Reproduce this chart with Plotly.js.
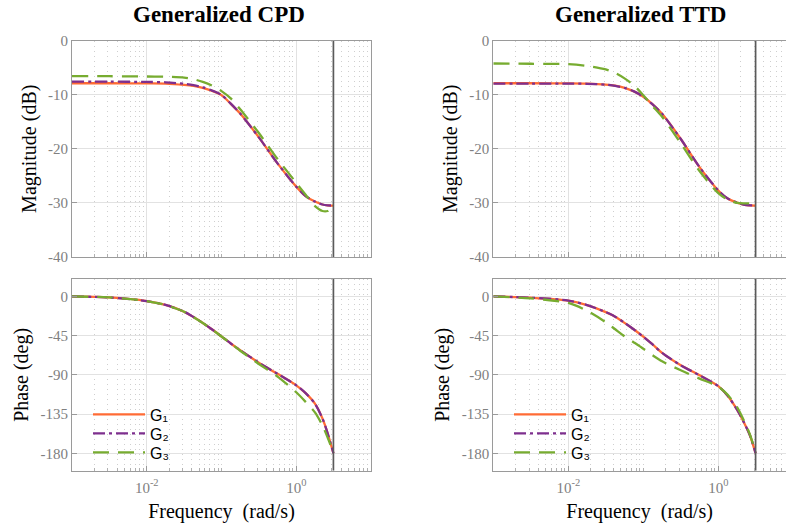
<!DOCTYPE html>
<html><head><meta charset="utf-8">
<script src="https://cdn.plot.ly/plotly-3.0.1.min.js"></script>
<style>html,body{margin:0;padding:0;background:#fff;overflow:hidden}</style>
</head><body><div id="chart" style="width:786px;height:529px"></div>
<script>
// ---- data ----
const freq = [0.001, 0.00316, 0.01, 0.0178, 0.0316, 0.0422, 0.0562, 0.075, 0.1, 0.133, 0.178, 0.316, 0.562, 1, 1.334, 1.778, 2.239, 2.630, 3.1416];

const cpdMagG1 = [-7.9, -7.9, -7.92, -7.95, -8.2, -8.4, -8.75, -9.3, -10.1, -11.7, -13.5, -17.9, -22.7, -27.0, -28.75, -29.75, -30.3, -30.45, -30.5];
const cpdMagG2 = [-7.6, -7.6, -7.65, -7.72, -8.0, -8.25, -8.65, -9.25, -10.05, -11.65, -13.5, -17.9, -22.7, -27.0, -28.75, -29.75, -30.3, -30.45, -30.5];
const cpdMagG3 = [-6.6, -6.6, -6.65, -6.7, -6.85, -7.15, -7.65, -8.35, -9.35, -10.7, -12.7, -17.1, -21.9, -26.3, -28.5, -30.6, -31.5, -31.5, -30.7];

const ttdMagG1 = [-7.9, -7.9, -7.92, -7.97, -8.15, -8.35, -8.75, -9.4, -10.4, -11.8, -13.55, -18.2, -23.4, -27.7, -29.2, -29.95, -30.35, -30.45, -30.5];
const ttdMagG2 = [-7.95, -7.95, -7.96, -8.0, -8.17, -8.37, -8.76, -9.4, -10.4, -11.8, -13.55, -18.2, -23.4, -27.7, -29.2, -29.95, -30.35, -30.45, -30.5];
const ttdMagG3 = [-4.25, -4.3, -4.37, -4.7, -5.35, -6.0, -7.0, -8.3, -10.1, -12.1, -14.1, -19.0, -24.1, -28.2, -29.4, -30.0, -30.1, -30.1, -30.3];

const cpdPhaseG1 = [0, -1.2, -5.3, -9.8, -17.5, -23.7, -30.5, -38, -46, -54, -61.8, -76, -88.8, -102, -111, -123, -140, -157, -180];
const cpdPhaseG2 = [0, -1.2, -5.3, -9.8, -17.5, -23.7, -30.5, -38, -46, -54, -61.8, -76, -88.8, -102, -111, -123, -140, -157, -180];
const cpdPhaseG3 = [0, -1.2, -5.3, -9.8, -17.5, -23.7, -30.5, -38, -46, -54, -62.3, -77.5, -92, -110, -121, -133, -148, -162, -179];

const ttdPhaseG1 = [0, -1.5, -4.8, -10, -18, -23.2, -30.3, -38, -46.2, -55.1, -64.8, -79, -90.5, -103, -114, -130, -146, -159, -180];
const ttdPhaseG2 = [0, -1.5, -4.8, -10, -18, -23.2, -30.3, -38, -46.2, -55.1, -64.8, -79, -90.5, -103, -114, -130, -146, -159, -180];
const ttdPhaseG3 = [0, -2.3, -7.5, -16.5, -29.6, -37.7, -45.7, -52.8, -60, -67.5, -74.5, -84.8, -94.3, -103.5, -113, -127, -144, -158, -179];

const seriesNames = ['G\u2081', 'G\u2082', 'G\u2083'];
const panelTitles = ['Generalized CPD', 'Generalized TTD'];
const nyquist = Math.PI;
const magRange = [-40, 0];
const phaseRange = [-200, 20];
const magTicks = [0, -10, -20, -30, -40];
const phaseTicks = [0, -45, -90, -135, -180];
const xTickVals = [0.01, 1];
const xTickText = ['10<sup>-2</sup>', '10<sup>0</sup>'];

// ---- styling ----
const colors = ['#FF6B35', '#7E2F8E', '#77AC30'];
const dashes = ['solid', '12px,4px,3px,4px', '16px,9px'];
const W = 786, H = 529;
const minorVals = [];
for (let k = -3; k <= 0; k++) for (let m = 1; m <= 9; m++) {
  const v = m * Math.pow(10, k);
  if (!(m === 1 && (k === -2 || k === 0 || k === -3))) minorVals.push(v);
}
const serif = 'Liberation Serif, Times New Roman, serif';
const tickFont = {family: serif, size: 15, color: '#808080'};
const titleFont = {family: serif, size: 20, color: '#000'};

function xAxis(domain, range, withLabels, anchor) {
  return {
    type: 'log', domain: domain, range: range, anchor: anchor,
    tickmode: 'array', tickvals: xTickVals, ticktext: xTickText,
    showticklabels: withLabels, tickfont: tickFont, ticklabelstandoff: 3,
    showline: true, linecolor: '#9a9a9a', linewidth: 1, mirror: true,
    ticks: 'inside', ticklen: 5, tickcolor: '#9a9a9a',
    showgrid: true, gridcolor: '#e2e2e2', gridwidth: 1,
    minor: {tickmode: 'array', tickvals: minorVals, ticks: 'inside', ticklen: 3, tickcolor: '#b0b0b0',
            showgrid: true, gridcolor: '#cfcfcf', gridwidth: 1, griddash: '1px,4px'},
    zeroline: false, fixedrange: true,
    title: withLabels ? {text: 'Frequency\u00a0 (rad/s)', font: titleFont, standoff: 9} : {text: ''}
  };
}
function yAxis(domain, range, ticks, title, anchor, mirror) {
  return {
    domain: domain, range: range, anchor: anchor,
    tickmode: 'array', tickvals: ticks, ticktext: ticks.map(String),
    tickfont: tickFont,
    showline: true, linecolor: '#9a9a9a', linewidth: 1, mirror: mirror,
    ticks: 'inside', ticklen: 5, tickcolor: '#9a9a9a',
    showgrid: true, gridcolor: '#e2e2e2', gridwidth: 1,
    zeroline: false, fixedrange: true,
    title: {text: title, font: titleFont, standoff: 6}
  };
}

const leftX = [72 / W, 371 / W];
const rightX = [493.3 / W, 1];
const rightRange = [-3, -3 + (786 - 493.3) / 75];
const magY = [1 - 257 / H, 1 - 40.5 / H];
const phaseY = [1 - 470.7 / H, 1 - 279 / H];

const panels = [
  {mag: [cpdMagG1, cpdMagG2, cpdMagG3], ph: [cpdPhaseG1, cpdPhaseG2, cpdPhaseG3], xm: 'x', ym: 'y', xp: 'x2', yp: 'y2',
   legends: ['legend', 'legend2', 'legend3'], legendX: 88},
  {mag: [ttdMagG1, ttdMagG2, ttdMagG3], ph: [ttdPhaseG1, ttdPhaseG2, ttdPhaseG3], xm: 'x3', ym: 'y3', xp: 'x4', yp: 'y4',
   legends: ['legend4', 'legend5', 'legend6'], legendX: 509}
];

const traces = [];
panels.forEach(p => {
  for (let i = 0; i < 3; i++) {
    traces.push({x: freq, y: p.mag[i], xaxis: p.xm, yaxis: p.ym, mode: 'lines', showlegend: false,
      line: {color: colors[i], width: 2.3, dash: dashes[i], shape: 'spline', smoothing: 0.8}, hoverinfo: 'skip'});
  }
  for (let i = 0; i < 3; i++) {
    traces.push({x: freq, y: p.ph[i], xaxis: p.xp, yaxis: p.yp, mode: 'lines', name: seriesNames[i], legend: p.legends[i],
      line: {color: colors[i], width: 2.3, dash: dashes[i], shape: 'spline', smoothing: 0.8}, hoverinfo: 'skip'});
  }
  traces.push({x: [nyquist, nyquist], y: magRange, xaxis: p.xm, yaxis: p.ym, mode: 'lines', showlegend: false,
    line: {color: '#5a5a5a', width: 1.7}, hoverinfo: 'skip'});
  traces.push({x: [nyquist, nyquist], y: phaseRange, xaxis: p.xp, yaxis: p.yp, mode: 'lines', showlegend: false,
    line: {color: '#5a5a5a', width: 1.7}, hoverinfo: 'skip'});
});

const legendBase = {xanchor: 'left', yanchor: 'top', bgcolor: 'rgba(0,0,0,0)', borderwidth: 0,
  font: {family: 'Liberation Sans, DejaVu Sans, Arial, sans-serif', size: 16, color: '#000'}, itemwidth: 52, tracegroupgap: 0};
const rowTops = [397.5, 416.5, 435.5];

const layout = {
  width: W, height: H, margin: {l: 0, r: 0, t: 0, b: 0},
  paper_bgcolor: '#fff', plot_bgcolor: '#fff', showlegend: true,
  xaxis: xAxis(leftX, [-3, 1], false, 'y'),
  yaxis: yAxis(magY, magRange, magTicks, 'Magnitude (dB)', 'x', true),
  xaxis2: xAxis(leftX, [-3, 1], true, 'y2'),
  yaxis2: yAxis(phaseY, phaseRange, phaseTicks, 'Phase (deg)', 'x2', true),
  xaxis3: xAxis(rightX, rightRange, false, 'y3'),
  yaxis3: yAxis(magY, magRange, magTicks, 'Magnitude (dB)', 'x3', false),
  xaxis4: xAxis(rightX, rightRange, true, 'y4'),
  yaxis4: yAxis(phaseY, phaseRange, phaseTicks, 'Phase (deg)', 'x4', false),
  annotations: [
    {text: '<b>' + panelTitles[0] + '</b>', xref: 'paper', yref: 'paper', x: 219 / W, y: 1 - 14.5 / H,
     xanchor: 'center', yanchor: 'middle', showarrow: false, font: {family: serif, size: 23, color: '#000'}},
    {text: '<b>' + panelTitles[1] + '</b>', xref: 'paper', yref: 'paper', x: 640 / W, y: 1 - 14.5 / H,
     xanchor: 'center', yanchor: 'middle', showarrow: false, font: {family: serif, size: 23, color: '#000'}}
  ]
};
panels.forEach(p => {
  p.legends.forEach((id, i) => {
    layout[id] = Object.assign({x: p.legendX / W, y: 1 - rowTops[i] / H}, legendBase);
  });
});

Plotly.newPlot('chart', traces, layout, {displayModeBar: false, staticPlot: true});
</script></body></html>
